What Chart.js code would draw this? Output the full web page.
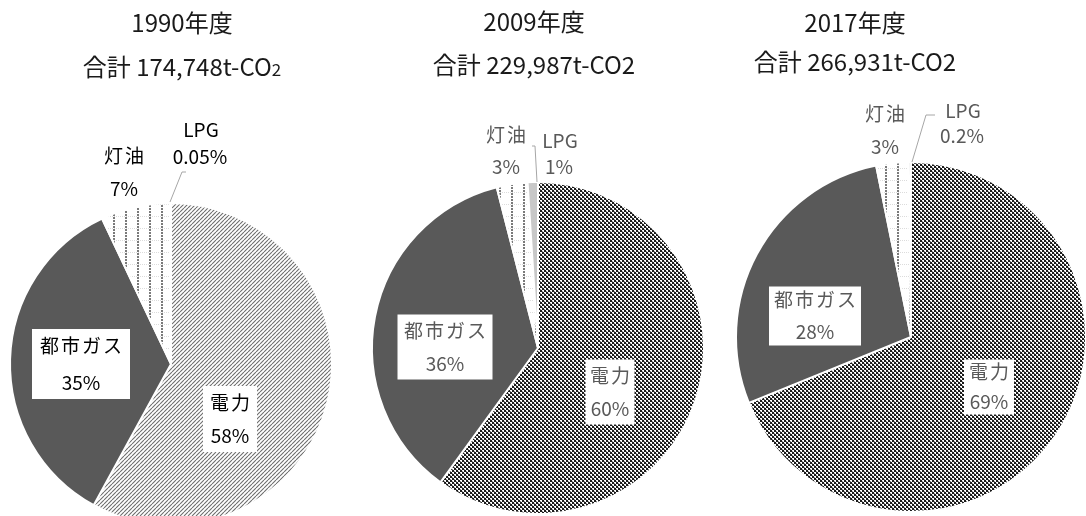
<!DOCTYPE html>
<html>
<head>
<meta charset="utf-8">
<script src="https://cdn.jsdelivr.net/npm/chart.js@4.4.0/dist/chart.umd.min.js"></script>
<style>
  html, body { margin: 0; padding: 0; background: #fff; width: 1086px; height: 516px; overflow: hidden; }
  canvas { position: absolute; top: 0; }
</style>
</head>
<body>
<canvas id="c1990" width="362" height="516" style="left:0"></canvas>
<canvas id="c2009" width="362" height="516" style="left:362px"></canvas>
<canvas id="c2017" width="362" height="516" style="left:724px"></canvas>
<script>
// data
const categories = ['電力', '都市ガス', '灯油', 'LPG'];
const years = ['1990年度', '2009年度', '2017年度'];
const totals = ['174,748', '229,987', '266,931'];
const share1990 = [58, 35, 7, 0.05];
const share2009 = [60, 36, 3, 1];
const share2017 = [69, 28, 3, 0.2];

const FONT = '"Noto Sans CJK JP", "Noto Sans", sans-serif';

function pattern(size, draw) {
  const c = document.createElement('canvas');
  c.width = c.height = size;
  const g = c.getContext('2d');
  g.fillStyle = '#fff';
  g.fillRect(0, 0, size, size);
  draw(g, size);
  return g.createPattern(c, 'repeat');
}

// light upward stripes (1990 electricity)
const lightStripes = pattern(4, (g, s) => {
  g.strokeStyle = '#6e6e6e';
  g.lineWidth = 1.1;
  g.beginPath();
  [-s, 0, s].forEach(o => { g.moveTo(o, s); g.lineTo(o + s, 0); });
  g.stroke();
});

// dark checker (2009 / 2017 electricity)
const darkChecker = pattern(4, g => {
  g.fillStyle = '#1a1a1a';
  g.fillRect(0, 0, 2, 2);
  g.fillRect(2, 2, 2, 2);
  g.fillStyle = '#8a8a8a';
  g.fillRect(2, 1, 1, 1);
  g.fillRect(0, 3, 1, 1);
});

// dashed verticals (kerosene)
const dashedGrid = pattern(12, g => {
  g.fillStyle = '#dcdcdc';
  for (let x = 0; x < 12; x += 2) g.fillRect(x, 0, 1, 1);
  g.fillStyle = '#7a7a7a';
  for (let y = 1; y < 12; y += 3) g.fillRect(5, y, 2, 2);
});

function makeChart(id, x0, center, r, values, cfg) {
  const [cx, cy] = center;
  const h = 50;
  const labels = {
    id: 'sliceLabels',
    afterDraw(chart) {
      const ctx = chart.ctx;
      const arc = chart.getDatasetMeta(0).data[0];
      const px = arc.x, py = arc.y;
      const vals = chart.data.datasets[0].data;
      ctx.save();

      // leader line to the small slice
      ctx.strokeStyle = '#a6a6a6';
      ctx.lineWidth = 1;
      ctx.beginPath();
      cfg.leader.forEach(([dx, dy], i) => i ? ctx.lineTo(px + dx, py + dy) : ctx.moveTo(px + dx, py + dy));
      ctx.stroke();

      ctx.textAlign = 'center';
      ctx.textBaseline = 'middle';
      cfg.spots.forEach((s, i) => {
        const x = px + s.dx, y = py + s.dy;
        if (s.box) {
          ctx.fillStyle = '#fff';
          ctx.fillRect(x - s.box[0] / 2, y - s.box[1] / 2, s.box[0], s.box[1]);
        }
        ctx.fillStyle = cfg.color;
        ctx.font = '19px ' + FONT;
        ctx.letterSpacing = /[^\x00-\x7f]/.test(chart.data.labels[i]) ? '2px' : '0px';
        ctx.fillText(chart.data.labels[i], x + 1, y - s.gap / 2);
        ctx.letterSpacing = '0px';
        ctx.fillText(vals[i] + '%', x, y + s.gap / 2);
      });

      // titles
      ctx.fillStyle = '#1a1a1a';
      ctx.font = '24px ' + FONT;
      ctx.fillText(cfg.year, cfg.tx, cfg.ty[0]);
      const main = '合計 ' + cfg.total + 't-CO';
      const sub = '2';
      const subFont = (cfg.smallSub ? '17px ' : '24px ') + FONT;
      const w1 = ctx.measureText(main).width;
      ctx.font = subFont;
      const w2 = ctx.measureText(sub).width;
      const left = cfg.tx - (w1 + w2) / 2;
      ctx.textAlign = 'left';
      ctx.textBaseline = 'alphabetic';
      ctx.font = '24px ' + FONT;
      ctx.fillText(main, left, cfg.ty[1] + 9);
      ctx.font = subFont;
      ctx.fillText(sub, left + w1, cfg.ty[1] + 9);
      ctx.restore();
    }
  };

  return new Chart(document.getElementById(id), {
    type: 'pie',
    data: {
      labels: categories,
      datasets: [{
        data: values,
        backgroundColor: [cfg.elec, '#595959', dashedGrid, '#c8c8c8'],
        borderColor: '#fff',
        borderWidth: 2,
        radius: r
      }]
    },
    options: {
      responsive: false,
      animation: false,
      layout: { padding: { left: cx - x0 - h, right: x0 + 362 - cx - h, top: cy - h, bottom: 516 - cy - h } },
      plugins: { legend: { display: false }, tooltip: { enabled: false } }
    },
    plugins: [labels]
  });
}

makeChart('c1990', 0, [171, 364], 161, share1990, {
  year: years[0], total: totals[0], smallSub: true, tx: 182, ty: [23, 67],
  elec: lightStripes, color: '#000',
  leader: [[15, -192], [11, -192], [-1, -162]],
  spots: [
    { dx: 59, dy: 55, gap: 33, box: [54, 66] },
    { dx: -90, dy: 0, gap: 37, box: [98, 70] },
    { dx: -47, dy: -192, gap: 33 },
    { dx: 29, dy: -221, gap: 27 }
  ]
});

makeChart('c2009', 362, [538, 348], 166, share2009, {
  year: years[1], total: totals[1], smallSub: false, tx: 172, ty: [22, 65],
  elec: darkChecker, color: '#595959',
  leader: [[-6, -202], [-3, -202], [-1, -166]],
  spots: [
    { dx: 72, dy: 44, gap: 33, box: [49, 65] },
    { dx: -93, dy: -1, gap: 33, box: [95, 65] },
    { dx: -32, dy: -197, gap: 32 },
    { dx: 21, dy: -194, gap: 26 }
  ]
});

makeChart('c2017', 724, [911, 337], 175, share2017, {
  year: years[2], total: totals[2], smallSub: false, tx: 131, ty: [23, 62],
  elec: darkChecker, color: '#595959',
  leader: [[24, -222], [15, -222], [1, -175]],
  spots: [
    { dx: 78, dy: 50, gap: 30, box: [50, 55] },
    { dx: -96, dy: -21, gap: 32, box: [92, 59] },
    { dx: -26, dy: -207, gap: 33 },
    { dx: 51, dy: -214, gap: 25 }
  ]
});
</script>
</body>
</html>
